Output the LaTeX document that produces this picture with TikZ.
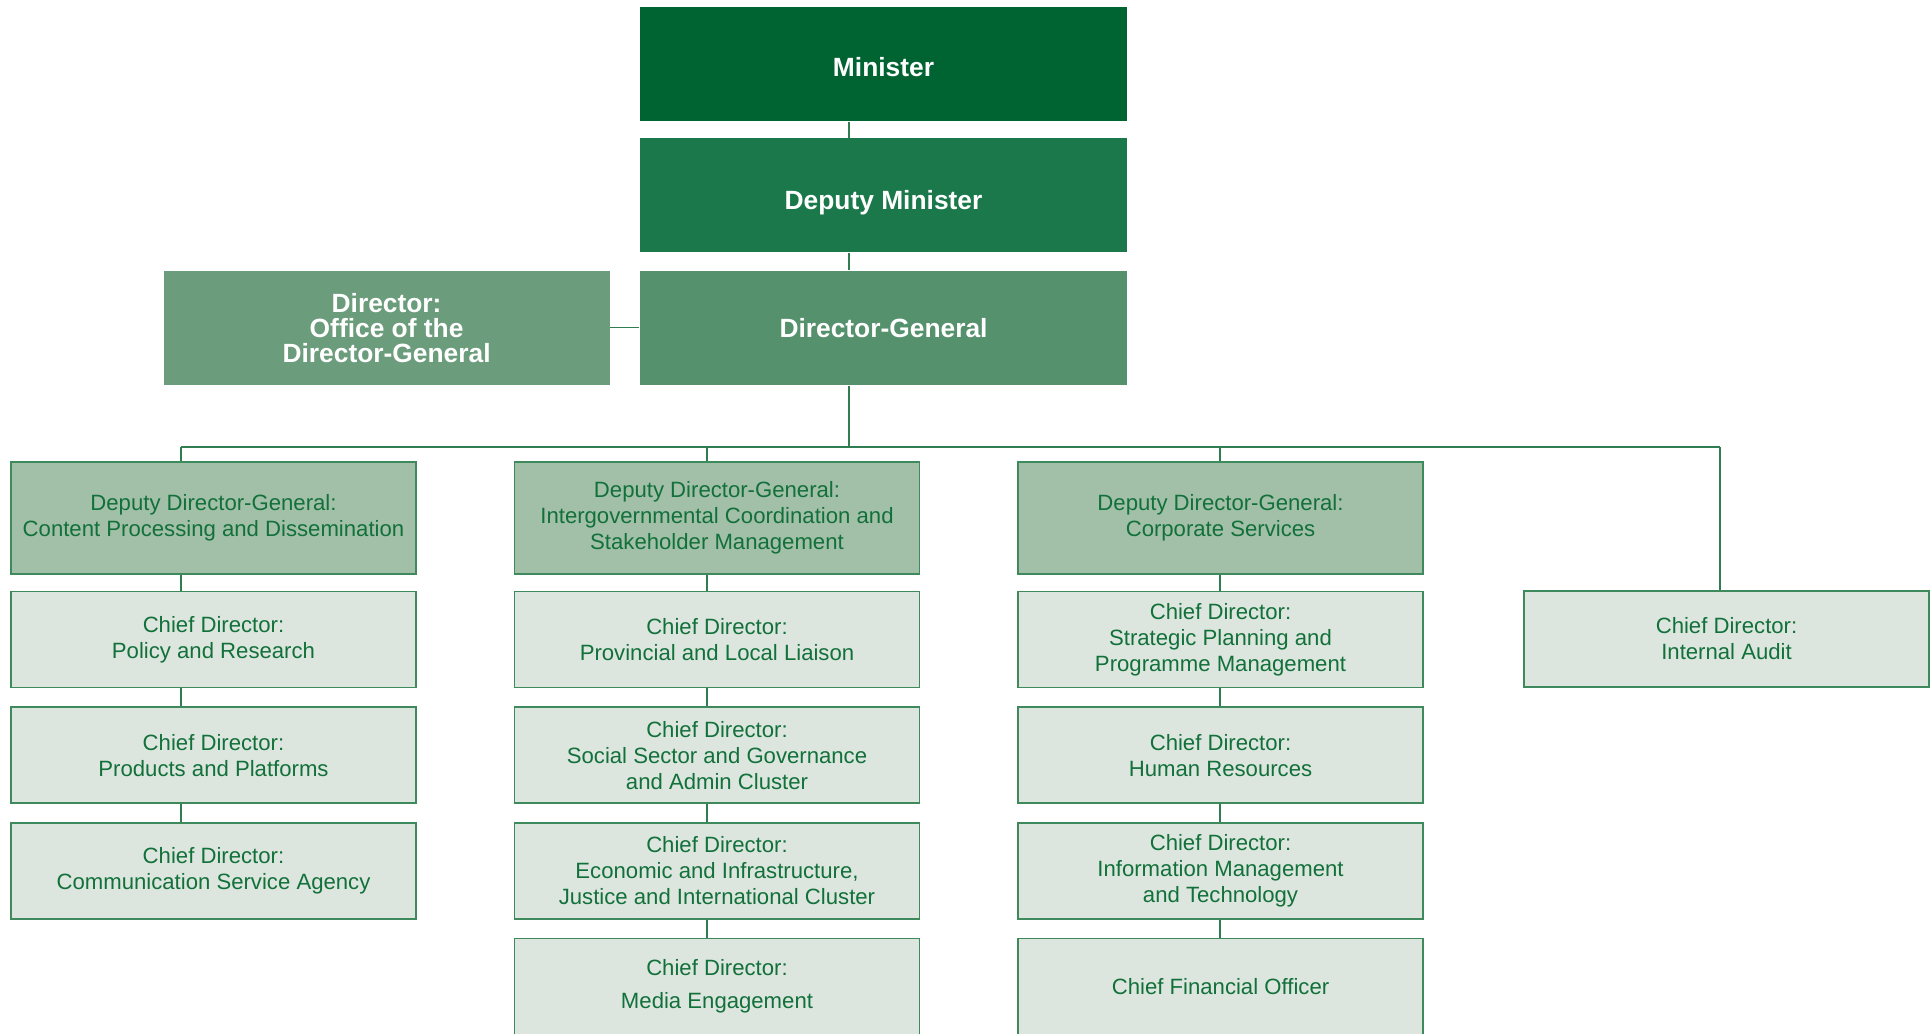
\documentclass[tikz,border=0pt]{standalone}
\usepackage{fontspec}
\setmainfont{Liberation Sans}
\usepackage{xcolor}
\usepackage{tikz}
\usetikzlibrary{positioning}

\definecolor{minGreen}{HTML}{006432}
\definecolor{depGreen}{HTML}{1A784B}
\definecolor{dgGreen}{HTML}{55916C}
\definecolor{offGreen}{HTML}{6B9C7B}
\definecolor{ddgFill}{HTML}{A2BFA8}
\definecolor{cdFill}{HTML}{DCE6DE}
\definecolor{boxGreen}{HTML}{3E8A5C}
\definecolor{lineGreen}{HTML}{2F7D50}
\definecolor{txtGreen}{HTML}{12703A}

\begin{document}
\begin{tikzpicture}[
    node distance=0.18cm, % gap between stacked boxes
    top/.style={rectangle,minimum width=4.87cm,minimum height=1.14cm,inner sep=0pt,text=white,align=center,font=\fontsize{7.5}{7.1}\selectfont\bfseries},
    ddg/.style={rectangle,draw=boxGreen,line width=0.45pt,fill=ddgFill,minimum width=4.05cm,minimum height=1.12cm,inner sep=0pt,text=txtGreen,align=center,font=\fontsize{6.3}{7.4}\selectfont},
    cd/.style={ddg,fill=cdFill,minimum height=0.96cm},
    link/.style={draw=lineGreen,line width=0.35pt}
]
    \useasboundingbox (0,0) rectangle (19.32,-10.33);
    \clip (0,0) rectangle (19.32,-10.33);

    % Executive boxes
    \node[top,fill=minGreen,text height=7pt,text depth=0pt] (minister) at (8.835,-0.64) {Minister};
    \node[top,fill=depGreen,text height=8pt,text depth=0pt] (deputy) [below=0.16cm of minister] {Deputy Minister};
    \node[top,fill=dgGreen] (dg) [below=0.17cm of deputy] {Director-General};
    \node[top,fill=offGreen,minimum width=4.46cm] (office) [left=0.29cm of dg] {Director:\\Office of the\\Director-General};

    % Branch points on the bus line
    \coordinate (bus) at (8.49,-4.47);
    \coordinate (busA) at (1.81,-4.47);
    \coordinate (busB) at (7.07,-4.47);
    \coordinate (busC) at (12.20,-4.47);
    \coordinate (busD) at (17.20,-4.47);

    % Deputy Directors-General
    \node[ddg] (ddgcontent) at (2.135,-5.18) {Deputy Director-General:\\Content Processing and Dissemination};
    \node[ddg] (ddginter) at (7.17,-5.18) {Deputy Director-General:\\Intergovernmental Coordination and\\Stakeholder Management};
    \node[ddg] (ddgcorp) at (12.205,-5.18) {Deputy Director-General:\\Corporate Services};

    % Chief Directors, first column
    \node[cd] (cdpolicy) [below=0.16cm of ddgcontent] {Chief Director:\\Policy and Research};
    \node[cd] (cdproducts) [below=of cdpolicy] {Chief Director:\\Products and Platforms};
    \node[cd] (cdcomm) [below=of cdproducts] {Chief Director:\\Communication Service Agency};

    % second column
    \node[cd] (cdprovincial) [below=0.16cm of ddginter] {Chief Director:\\Provincial and Local Liaison};
    \node[cd] (cdsocial) [below=of cdprovincial] {Chief Director:\\Social Sector and Governance\\and Admin Cluster};
    \node[cd] (cdeconomic) [below=of cdsocial] {Chief Director:\\Economic and Infrastructure,\\Justice and International Cluster};
    \node[cd] (cdmedia) [below=of cdeconomic] {Chief Director:\\[2pt]Media Engagement};

    % third column
    \node[cd] (cdplanning) [below=0.16cm of ddgcorp] {Chief Director:\\Strategic Planning and\\Programme Management};
    \node[cd] (cdhr) [below=of cdplanning] {Chief Director:\\Human Resources};
    \node[cd] (cdinfo) [below=of cdhr] {Chief Director:\\Information Management\\and Technology};
    \node[cd] (cfo) [below=of cdinfo] {Chief Financial Officer};

    % Internal audit on its own
    \node[cd] (cdaudit) at (17.265,-6.39) {Chief Director:\\Internal Audit};

    % Top links
    \foreach \a/\b in {minister/deputy, deputy/dg}
        \draw[link] (\a.south -| bus) -- (\b.north -| bus);
    \draw[link] (dg.south -| bus) -- (bus);
    \draw[link] (office) -- (dg);

    % Bus and drops
    \draw[link] (busA) -- (busD);
    \draw[link] (busA) -- (busA |- ddgcontent.north);
    \draw[link] (busB) -- (busB |- ddginter.north);
    \draw[link] (busC) -- (busC |- ddgcorp.north);
    \draw[link] (busD) -- (busD |- cdaudit.north);

    % Links down each column
    \foreach \a/\b in {ddgcontent/cdpolicy, cdpolicy/cdproducts, cdproducts/cdcomm}
        \draw[link] (\a.south -| busA) -- (\b.north -| busA);
    \foreach \a/\b in {ddginter/cdprovincial, cdprovincial/cdsocial, cdsocial/cdeconomic, cdeconomic/cdmedia}
        \draw[link] (\a.south -| busB) -- (\b.north -| busB);
    \foreach \a/\b in {ddgcorp/cdplanning, cdplanning/cdhr, cdhr/cdinfo, cdinfo/cfo}
        \draw[link] (\a.south -| busC) -- (\b.north -| busC);
\end{tikzpicture}
\end{document}
